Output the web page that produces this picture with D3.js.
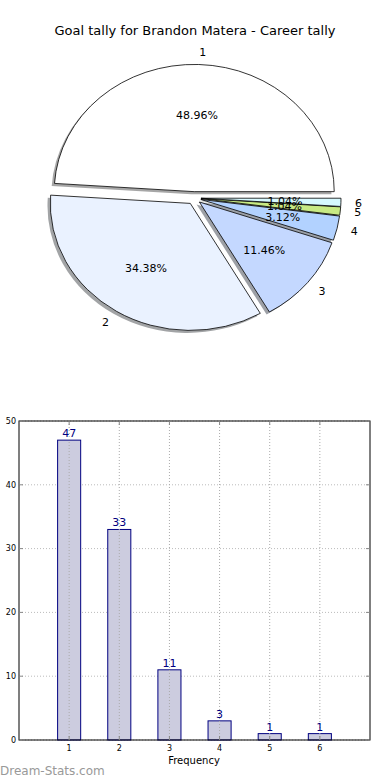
<!DOCTYPE html>
<html>
<head>
<meta charset="utf-8">
<script src="https://cdn.jsdelivr.net/npm/d3@7"></script>
<style>
  body { margin: 0; background: #fff; }
  svg { display: block; font-family: "DejaVu Sans", sans-serif; }
</style>
</head>
<body>
<div id="chart"></div>
<script>
// goal tally data
const categories = ['1', '2', '3', '4', '5', '6'];
const counts = [47, 33, 11, 3, 1, 1];
const sliceColors = ['#ffffff', '#eaf2ff', '#c4d8ff', '#b2d2ff', '#c8ea84', '#d6f9ff'];
const yTicks = [0, 10, 20, 30, 40, 50];

const width = 390, height = 780;
const svg = d3.select('#chart').append('svg')
    .attr('width', width)
    .attr('height', height);

// title
svg.append('text')
    .attr('x', 195).attr('y', 35)
    .attr('text-anchor', 'middle')
    .style('font-size', '13px')
    .text('Goal tally for Brandon Matera - Career tally');

// ---- pie (elliptical, exploded, with shadow) ----
const cx = 194, cy = 198, rx = 140, ry = 127;
const explode = 0.05;
const total = d3.sum(counts);

// percent with round-half-even, so 3.125 -> 3.12 like the original
function fmtPct(v) {
    const p = v / total * 10000;
    let r = Math.round(p);
    if (Math.abs(p - Math.floor(p) - 0.5) < 1e-9 && r % 2 === 1) r -= 1;
    return (r / 100).toFixed(2) + '%';
}

// start at 3 o'clock, go counterclockwise like matplotlib
const pie = d3.pie().sort(null)
    .startAngle(Math.PI / 2)
    .endAngle(Math.PI / 2 - 2 * Math.PI);
const arcs = pie(counts);
const arc = d3.arc().innerRadius(0).outerRadius(1);

// math angle of the slice middle (radians, counterclockwise from +x)
function midTheta(d) {
    const a = (d.startAngle + d.endAngle) / 2;
    return Math.PI / 2 - a;
}
function offsetPos(d, dist) {
    const t = midTheta(d);
    return [cx + (explode + dist) * rx * Math.cos(t), cy - (explode + dist) * ry * Math.sin(t)];
}

const pieG = svg.append('g');

// shadows first
pieG.selectAll('.shadow')
    .data(arcs)
    .enter()
    .append('path')
    .attr('class', 'shadow')
    .attr('d', arc)
    .attr('transform', d => {
        const p = offsetPos(d, 0);
        return `translate(${p[0] - 0.02 * rx},${p[1] + 0.02 * ry}) scale(${rx},${ry})`;
    })
    .attr('fill', d => {
        const c = d3.rgb(sliceColors[d.index]);
        return d3.rgb(c.r * 0.3, c.g * 0.3, c.b * 0.3);
    })
    .attr('fill-opacity', 0.5);

pieG.selectAll('.wedge')
    .data(arcs)
    .enter()
    .append('path')
    .attr('class', 'wedge')
    .attr('d', arc)
    .attr('transform', d => {
        const p = offsetPos(d, 0);
        return `translate(${p[0]},${p[1]}) scale(${rx},${ry})`;
    })
    .attr('fill', d => sliceColors[d.index])
    .attr('stroke', '#000')
    .attr('stroke-width', 0.8)
    .attr('vector-effect', 'non-scaling-stroke');

// category labels
pieG.selectAll('.lbl')
    .data(arcs)
    .enter()
    .append('text')
    .attr('class', 'lbl')
    .attr('x', d => offsetPos(d, 1.1)[0])
    .attr('y', d => offsetPos(d, 1.1)[1])
    .attr('dy', '0.35em')
    .attr('text-anchor', d => Math.cos(midTheta(d)) > 0 ? 'start' : 'end')
    .style('font-size', '11px')
    .text(d => categories[d.index]);

// percentage labels
pieG.selectAll('.pct')
    .data(arcs)
    .enter()
    .append('text')
    .attr('class', 'pct')
    .attr('x', d => offsetPos(d, 0.6)[0])
    .attr('y', d => offsetPos(d, 0.6)[1])
    .attr('dy', '0.35em')
    .attr('text-anchor', 'middle')
    .style('font-size', '11px')
    .text(d => fmtPct(d.value));

// ---- bar chart ----
const plotL = 19, plotR = 370, plotT = 421, plotB = 740;
const x = d3.scaleLinear().domain([0, 7]).range([plotL, plotR]);
const y = d3.scaleLinear().domain([0, 50]).range([plotB, plotT]);
const barW = 0.46;

const barG = svg.append('g');

// horizontal grid
barG.selectAll('.hgrid')
    .data(yTicks)
    .enter()
    .append('line')
    .attr('x1', plotL).attr('x2', plotR)
    .attr('y1', d => y(d)).attr('y2', d => y(d))
    .attr('stroke', '#bbb')
    .attr('stroke-dasharray', '1,2');

// bars
barG.selectAll('.bar')
    .data(counts)
    .enter()
    .append('rect')
    .attr('class', 'bar')
    .attr('x', (d, i) => x(i + 1 - barW / 2))
    .attr('width', x(barW) - x(0))
    .attr('y', d => y(d))
    .attr('height', d => y(0) - y(d))
    .attr('fill', '#ccccdf')
    .attr('stroke', '#000080')
    .attr('stroke-width', 1);

// vertical grid drawn over bars
barG.selectAll('.vgrid')
    .data(d3.range(1, 7))
    .enter()
    .append('line')
    .attr('x1', d => x(d)).attr('x2', d => x(d))
    .attr('y1', plotT).attr('y2', plotB)
    .attr('stroke', '#aaa')
    .attr('stroke-dasharray', '1,2');

// value labels
barG.selectAll('.val')
    .data(counts)
    .enter()
    .append('text')
    .attr('x', (d, i) => x(i + 1))
    .attr('y', d => y(d) - 3)
    .attr('text-anchor', 'middle')
    .attr('fill', '#000080')
    .style('font-size', '11px')
    .text(d => d);

// frame
barG.append('rect')
    .attr('x', plotL).attr('y', plotT)
    .attr('width', plotR - plotL).attr('height', plotB - plotT)
    .attr('fill', 'none')
    .attr('stroke', '#000')
    .attr('stroke-width', 1);

// tick marks (inward, all four sides)
const tickLen = 4;
d3.range(1, 7).forEach(v => {
    barG.append('line').attr('x1', x(v)).attr('x2', x(v)).attr('y1', plotB).attr('y2', plotB - tickLen).attr('stroke', '#888');
    barG.append('line').attr('x1', x(v)).attr('x2', x(v)).attr('y1', plotT).attr('y2', plotT + tickLen).attr('stroke', '#888');
});
yTicks.forEach(v => {
    barG.append('line').attr('x1', plotL).attr('x2', plotL + tickLen).attr('y1', y(v)).attr('y2', y(v)).attr('stroke', '#888');
    barG.append('line').attr('x1', plotR).attr('x2', plotR - tickLen).attr('y1', y(v)).attr('y2', y(v)).attr('stroke', '#888');
});

// tick labels
barG.selectAll('.ytl')
    .data(yTicks)
    .enter()
    .append('text')
    .attr('x', plotL - 3)
    .attr('y', d => y(d))
    .attr('dy', '0.35em')
    .attr('text-anchor', 'end')
    .style('font-size', '8px')
    .text(d => d);
barG.selectAll('.xtl')
    .data(categories)
    .enter()
    .append('text')
    .attr('x', (d, i) => x(i + 1))
    .attr('y', plotB + 11)
    .attr('text-anchor', 'middle')
    .style('font-size', '8px')
    .text(d => d);

svg.append('text')
    .attr('x', 194).attr('y', 764)
    .attr('text-anchor', 'middle')
    .style('font-size', '10px')
    .text('Frequency');

svg.append('text')
    .attr('x', 0).attr('y', 775)
    .attr('fill', '#999')
    .style('font-size', '12px')
    .text('Dream-Stats.com');
</script>
</body>
</html>
